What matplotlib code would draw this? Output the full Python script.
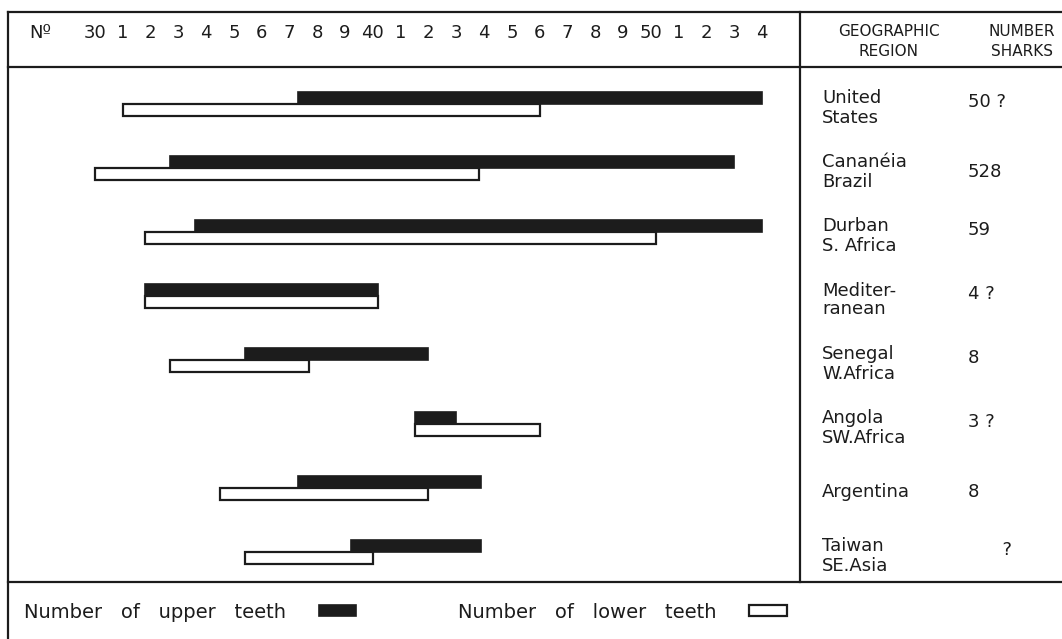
import matplotlib.pyplot as plt
from matplotlib.patches import Patch
import numpy as np

# tooth counts (start, end of each range)
regions = ['United\nStates', 'Cananéia\nBrazil', 'Durban\nS. Africa', 'Mediter-\nranean',
           'Senegal\nW.Africa', 'Angola\nSW.Africa', 'Argentina', 'Taiwan\nSE.Asia']
n_sharks = ['50 ?', '528', '59', '4 ?', '8', '3 ?', '8', '      ?']
upper_lo = [37.3, 32.7, 33.6, 31.8, 35.4, 41.5, 37.3, 39.2]
upper_hi = [54.0, 53.0, 54.0, 40.2, 42.0, 43.0, 43.9, 43.9]
lower_lo = [31.0, 30.0, 31.8, 31.8, 32.7, 41.5, 34.5, 35.4]
lower_hi = [46.0, 43.8, 50.2, 40.2, 37.7, 46.0, 42.0, 40.0]
tick_vals = list(range(30, 55))
tick_labels = [str(v) if v % 10 == 0 else str(v % 10) for v in tick_vals]

W, H = 1062, 639
ink = '#1c1c1c'
fig = plt.figure(figsize=(W / 100, H / 100), dpi=100)

# background axes in pixel units for the frame and the table
bg = fig.add_axes([0, 0, 1, 1])
bg.set_xlim(0, W)
bg.set_ylim(H, 0)
bg.axis('off')

lw = 1.6
bg.plot([8, W], [12, 12], color=ink, lw=lw)
bg.plot([8, W], [67, 67], color=ink, lw=lw)
bg.plot([8, W], [582, 582], color=ink, lw=lw)
bg.plot([8, 8], [12, H], color=ink, lw=lw)
bg.plot([800, 800], [12, 582], color=ink, lw=lw)

bg.text(40, 33, 'Nº', ha='center', va='center', fontsize=13, color=ink)
bg.text(889, 31, 'GEOGRAPHIC', ha='center', va='center', fontsize=11, color=ink)
bg.text(889, 52, 'REGION', ha='center', va='center', fontsize=11, color=ink)
bg.text(1022, 31, 'NUMBER', ha='center', va='center', fontsize=11, color=ink)
bg.text(1022, 52, 'SHARKS', ha='center', va='center', fontsize=11, color=ink)

# main chart axes
ax = fig.add_axes([8 / W, (H - 582) / H, (800 - 8) / W, (582 - 67) / H])
ax.patch.set_alpha(0)
px = (762 - 95) / 24.0
ax.set_xlim(30 - (95 - 8) / px, 54 + (800 - 762) / px)
ax.set_ylim((582 - 104) / 64.0, (67 - 104) / 64.0)
for s in ax.spines.values():
    s.set_visible(False)
ax.set_yticks([])
ax.xaxis.tick_top()
ax.set_xticks(tick_vals)
ax.set_xticklabels(tick_labels, fontsize=13, color=ink)
ax.tick_params(axis='x', length=0, pad=18)

rows = np.arange(len(regions))
h = 12 / 64.0
ulo, uhi = np.array(upper_lo), np.array(upper_hi)
llo, lhi = np.array(lower_lo), np.array(lower_hi)
ax.barh(rows - h, uhi - ulo, left=ulo, height=h, align='edge',
        color=ink, edgecolor=ink, lw=1.2)
ax.barh(rows, lhi - llo, left=llo, height=h, align='edge',
        color='white', edgecolor=ink, lw=1.6)

# table columns, one line per chart row
for i, (reg, n) in enumerate(zip(regions, n_sharks)):
    ty = 104 + 64 * i + 4
    lsp = 0.95 if reg.startswith('Mediter') else 1.15
    bg.text(822, ty, reg, ha='left', va='center', fontsize=13, color=ink,
            linespacing=lsp)
    ny = ty - (6 if '\n' in reg and n != '528' else 0)
    bg.text(968, ny, n, ha='left', va='center', fontsize=13, color=ink)

# legend row under the chart
handles = [Patch(facecolor=ink, edgecolor=ink, lw=1.2),
           Patch(facecolor='white', edgecolor=ink, lw=1.6)]
fig.legend(handles, ['Number   of   upper   teeth', 'Number   of   lower   teeth'],
           loc='center left', bbox_to_anchor=(6 / W, 1 - 612 / H), ncol=2,
           markerfirst=False, frameon=False, fontsize=14,
           handlelength=1.95, handleheight=0.5, handletextpad=1.7,
           columnspacing=5.2, labelcolor=ink)

fig.savefig('out.png', dpi=100)
